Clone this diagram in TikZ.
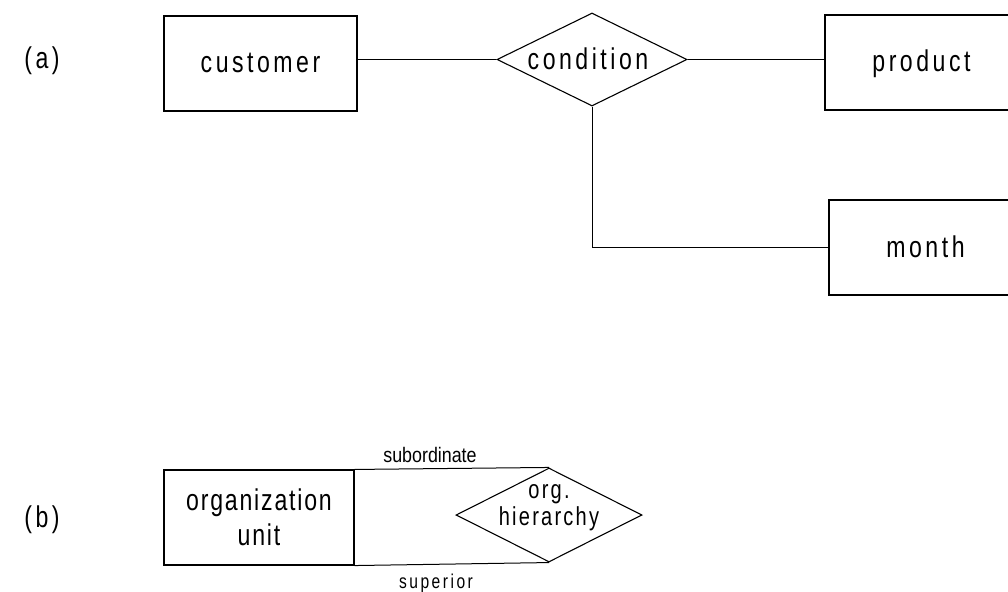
\documentclass[tikz,border=0pt]{standalone}
\usepackage{fontspec}
\setmainfont{Liberation Sans}[FakeStretch=0.77, LetterSpace=11.7]
\newfontfamily\subfont{Liberation Sans}[FakeStretch=0.85]
\newfontfamily\supfont{Liberation Sans}[FakeStretch=0.78, LetterSpace=12.5]
\usetikzlibrary{shapes.geometric}

\tikzset{
  bigtext/.style={font=\fontsize{30}{35}\selectfont, text height=23pt, text depth=4pt},
  entity/.style={draw, line width=1.1pt, minimum width=193pt, minimum height=95pt,
                 inner sep=0pt, bigtext},
  relation/.style={draw, diamond, line width=1.1pt, inner sep=0pt},
  reltext/.style={inner sep=0pt, align=center},
  link/.style={line width=1pt},
  tag/.style={inner sep=0pt, font=\fontsize{30}{32}\selectfont},
}

\begin{document}
\begin{tikzpicture}[x=1pt, y=-1pt]
  \useasboundingbox (0,0) rectangle (1008,591);

  % (a) ternary relationship
  \node[tag] (la) at (42,61) {(a)};
  \node[entity] (cust) at (260.5,63.5) {customer};
  \node[relation, minimum width=190pt, minimum height=93pt] (cond) at (592,59.5) {};
  \node[reltext, bigtext] (condt) at (588,60) {condition};
  \node[entity] (prod) at (921.5,62.5) {product};
  \node[entity] (mon) at (925.5,247.5) {month};

  \draw[link] (cond.west) -- (cond.west -| cust.east);
  \draw[link] (cond.east) -- (cond.east -| prod.west);
  \draw[link] (cond.south) |- (mon.west);

  % (b) recursive relationship
  \node[tag] (lb) at (42,520) {(b)};
  \node[draw, line width=1.1pt, minimum width=190pt, minimum height=95pt, inner sep=0pt,
        align=center, font=\fontsize{30}{35}\selectfont\addfontfeature{LetterSpace=6}]
        (org) at (259,517.5) {organization\\unit};
  \node[relation, minimum width=186pt, minimum height=94pt] (hier) at (549,515) {};
  \node[reltext, font=\fontsize{26}{27}\selectfont\addfontfeature{LetterSpace=8.6}]
        (hiert) at (549,508) {org.\\hierarchy};

  \draw[link] (org.north east) -- (hier.north);
  \draw[link] (org.south east) -- (hier.south);

  \node[inner sep=0pt, anchor=base, font=\subfont\fontsize{21}{22}\selectfont]
        (sub) at (430,462) {subordinate};
  \node[inner sep=0pt, anchor=base, font=\supfont\fontsize{20}{22}\selectfont]
        (sup) at (436,588) {superior};
\end{tikzpicture}
\end{document}
